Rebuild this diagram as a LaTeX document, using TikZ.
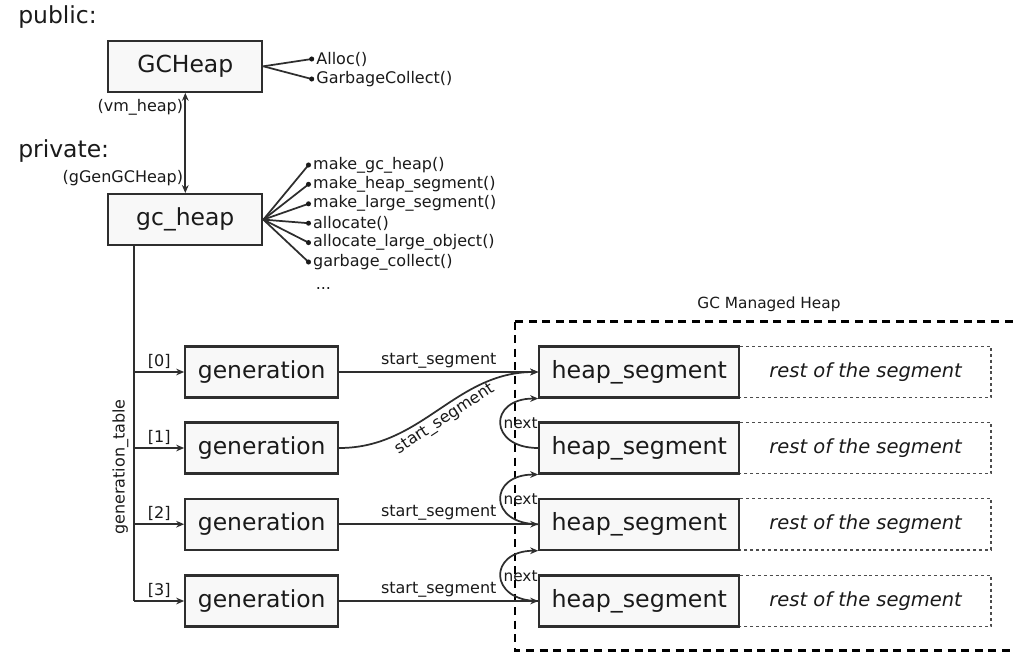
\documentclass[tikz,border=0pt]{standalone}
\usepackage{fontspec}
\setmainfont{DejaVu Sans}
\usetikzlibrary{arrows.meta}
\definecolor{edgecol}{HTML}{2E2E2E}
\definecolor{boxfill}{HTML}{F8F8F8}
\definecolor{txt}{HTML}{1A1A1A}
\newcommand\fsBig{\fontsize{17.6pt}{20pt}\selectfont}
\newcommand\fsSeg{\fontsize{17.8pt}{20pt}\selectfont}
\newcommand\fsRest{\fontsize{14.6pt}{17pt}\selectfont\itshape}
\newcommand\fsSmall{\fontsize{12pt}{14pt}\selectfont}
\newcommand\fsTiny{\fontsize{11.5pt}{13pt}\selectfont}

\begin{document}
\begin{tikzpicture}[x=0.75pt,y=-0.75pt,
  every node/.style={text=txt},
  box/.style={draw=edgecol, line width=1.6pt, fill=boxfill, inner sep=0pt,
              minimum height=38.2pt, font=\fsBig},
  topbox/.style={box, minimum width=115.5pt},
  genbox/.style={box, minimum width=114.7pt},
  segbox/.style={box, minimum width=150pt, font=\fsSeg},
  restbox/.style={inner sep=0pt, minimum width=187.5pt, minimum height=38.2pt, font=\fsRest},
  dotted edge/.style={draw=edgecol!85, line width=1pt, dash pattern=on 2.2pt off 2.2pt},
  conn/.style={draw=edgecol, line width=1.3pt},
  arr/.style={conn, -{Stealth[length=6pt,width=5pt]}},
  darr/.style={conn, {Stealth[length=6pt,width=5pt]}-{Stealth[length=6pt,width=5pt]}},
  mdot/.style={circle, fill=txt, inner sep=0pt, minimum size=3.8pt},
  mtext/.style={anchor=west, inner sep=0pt, font=\fsSmall},
  small/.style={font=\fsSmall},
  heading/.style={anchor=base west, inner sep=0pt, font=\fsBig},
]
\useasboundingbox (0,0) rectangle (1014,654);
\clip (0,0) rectangle (1014,654);
\fill[white] (0,0) rectangle (1014,654);

% section headings
\node[heading] (pub) at (18,23.5) {public:};
\node[heading] (priv) at (18,157) {private:};

% public and private heap objects
\node[topbox] (GCH) at (185.3,66.3) {GCHeap};
\node[topbox] (gch) at (185.3,219.6) {gc\_heap};

\draw[darr] (gch.north) -- (GCH.south)
  node[pos=0.15, left, inner sep=1pt, small] (gg) {(gGenGCHeap)}
  node[pos=0.86, left, inner sep=1pt, small] (vm) {(vm\_heap)};

% public methods
\foreach \yy/\tt [count=\i] in {59/Alloc(), 79/GarbageCollect()} {
  \draw[conn] (GCH.east) -- (311.7,\yy) coordinate (pd\i);
  \node[mdot] (pdot\i) at (pd\i) {};
  \node[mtext] (pt\i) at ([xshift=1.2pt]pdot\i.east) {\tt};
}

% private methods
\foreach \yy/\tt [count=\i] in {165/make\_gc\_heap(), 184.3/make\_heap\_segment(),
    203.8/make\_large\_segment(), 223.2/allocate(), 242.6/allocate\_large\_object(),
    262/garbage\_collect()} {
  \draw[conn] (gch.east) -- (308.5,\yy) coordinate (md\i);
  \node[mdot] (mdot\i) at (md\i) {};
  \node[mtext] (mt\i) at ([xshift=1.2pt]mdot\i.east) {\tt};
}
\node[anchor=base west, inner sep=0pt, small] (more) at (315.5,289) {...};

% generations
\node[genbox] (g0) at (261.7,372) {generation};
\node[genbox] (g1) at (261.7,448) {generation};
\node[genbox] (g2) at (261.7,524.2) {generation};
\node[genbox] (g3) at (261.7,601) {generation};

% generation table spine
\coordinate (sp) at ([xshift=20.3pt]gch.south west);
\draw[conn] (sp) -- (sp |- g3.west);
\foreach \k in {0,1,2,3} {
  \draw[arr] (sp |- g\k.west) -- (g\k.west)
    node[midway, above, inner sep=2pt, small] (idx\k) {[\k]};
}
\node[rotate=90, small] (gt) at (120.5,467) {generation\_table};

% managed heap region
\draw[line width=2.2pt, dash pattern=on 6pt off 4.2pt] (515,321.5) rectangle (1040,650.5);
\node[font=\fsTiny] (gcm) at (769,304) {GC Managed Heap};

% heap segments
\foreach \k/\yy in {0/372, 1/448, 2/524.2, 3/601} {
  \node[segbox] (h\k) at (639.3,\yy) {heap\_segment};
  \node[restbox, anchor=west] (r\k) at (h\k.east) {rest of the segment};
  \draw[dotted edge] (r\k.north west) -- (r\k.north east) -- (r\k.south east) -- (r\k.south west);
}

% start_segment pointers
\draw[arr] (g0.east) -- (h0.west) node[midway, above, inner sep=2pt, small] (s0) {start\_segment};
\draw[arr] (g1.east) to[out=0, in=180]
  node[midway, below, sloped, inner sep=2pt, small] (s1) {start\_segment} (h0.west);
\draw[arr] (g2.east) -- (h2.west) node[midway, above, inner sep=2pt, small] (s2) {start\_segment};
\draw[arr] (g3.east) -- (h3.west) node[midway, above, inner sep=2pt, small] (s3) {start\_segment};

% next pointers
\foreach \a/\b in {1/0, 2/1, 3/2} {
  \draw[arr] (h\a.west) .. controls +(-50,0) and +(-50,0) .. (h\b.south west)
    node[pos=0.5, anchor=west, inner sep=1.5pt, font=\fsTiny] (n\a) {next};
}
\end{tikzpicture}
\end{document}
